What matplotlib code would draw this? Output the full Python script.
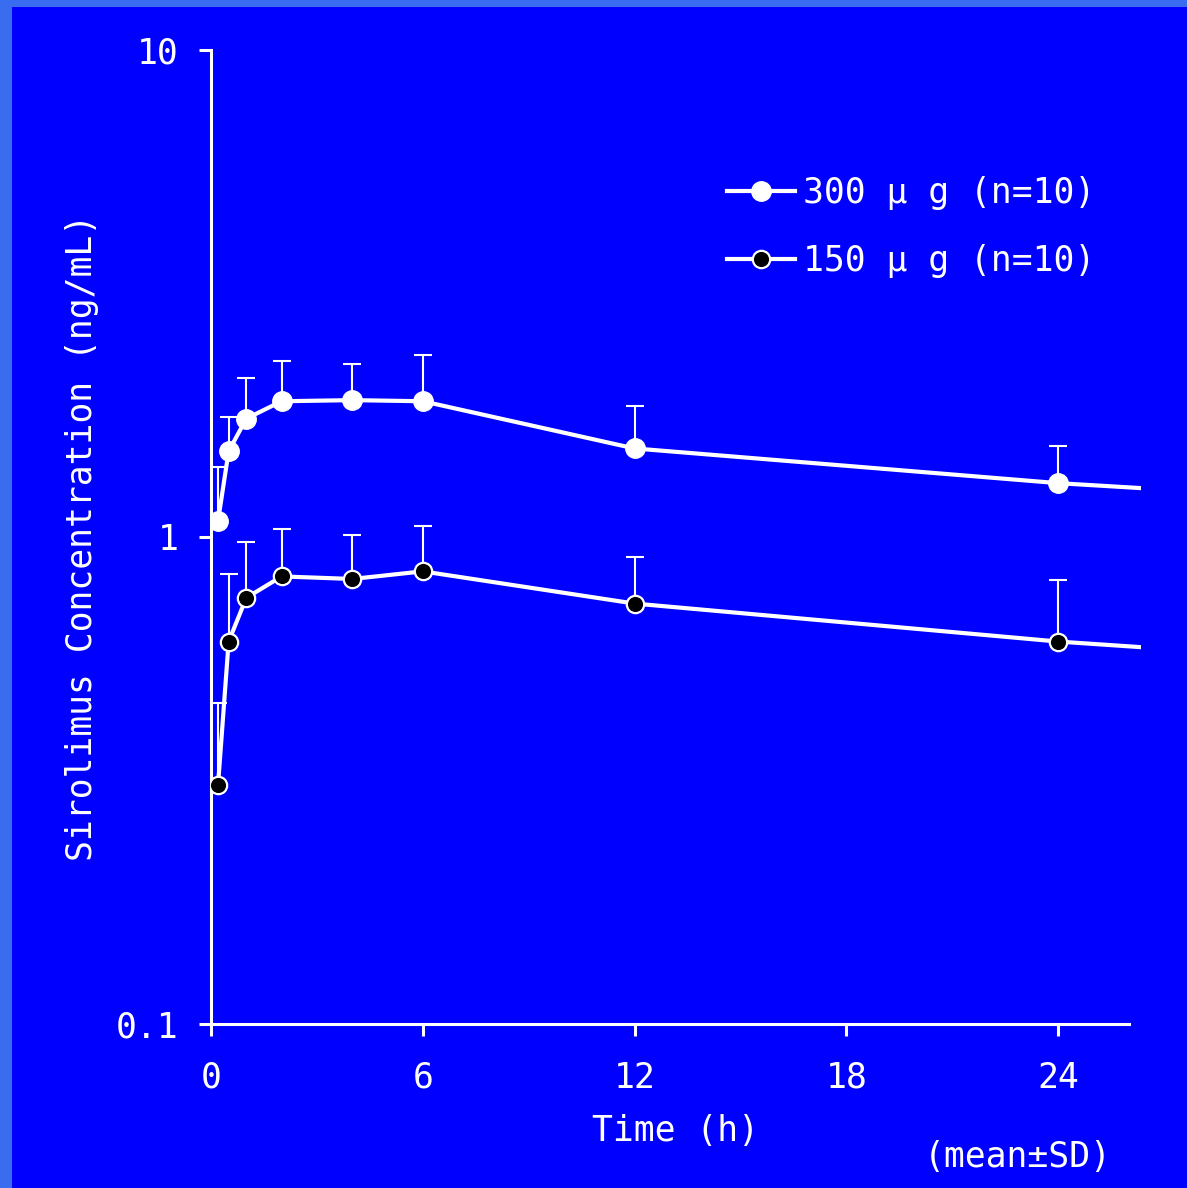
import matplotlib
matplotlib.use("Agg")
import matplotlib.pyplot as plt
from matplotlib.lines import Line2D
from matplotlib.patches import Rectangle

# Sampling times (h); the last value is where the line leaves the plot
time = [0.2, 0.5, 1, 2, 4, 6, 12, 24]
time_tail = 26.35

# 300 ug group
mean_300 = [1.08, 1.50, 1.75, 1.90, 1.91, 1.90, 1.52, 1.29]
sd_300 = [0.31, 0.26, 0.37, 0.40, 0.36, 0.46, 0.34, 0.25]
tail_300 = 1.26

# 150 ug group
mean_150 = [0.31, 0.61, 0.75, 0.83, 0.82, 0.85, 0.73, 0.61]
sd_150 = [0.146, 0.23, 0.225, 0.21, 0.19, 0.204, 0.18, 0.206]
tail_150 = 0.594

x_ticks = [0, 6, 12, 18, 24]
y_ticks = [0.1, 1, 10]
y_tick_labels = ["0.1", "1", "10"]

labels = ["300 μ g (n=10)", "150 μ g (n=10)"]

BLUE = "#0000FF"
FONT = "DejaVu Sans Mono"
FS = 25

fig = plt.figure(figsize=(11.87, 11.88), dpi=100)
fig.patch.set_facecolor("#3a6cf0")
# solid blue panel, leaving the lighter border strip on the left and top
fig.add_artist(Rectangle((12 / 1187, 0), 1, 1 - 7 / 1188, transform=fig.transFigure,
                         facecolor=BLUE, edgecolor="none", zorder=0))

ax = fig.add_axes([211 / 1187, 164 / 1188, 930 / 1187, 974 / 1188])
ax.set_facecolor(BLUE)
ax.set_yscale("log")
ax.set_xlim(0, time_tail)
ax.set_ylim(0.1, 10)

for spine in ["top", "right"]:
    ax.spines[spine].set_visible(False)
for spine in ["left", "bottom"]:
    ax.spines[spine].set_color("white")
    ax.spines[spine].set_linewidth(2.2)
ax.spines["bottom"].set_bounds(0, 26)

ax.set_xticks(x_ticks)
ax.set_xticklabels([str(t) for t in x_ticks])
ax.set_yticks(y_ticks)
ax.set_yticklabels(y_tick_labels)
ax.minorticks_off()
ax.tick_params(axis="both", colors="white", length=8.5, width=2.2, labelsize=FS)
ax.tick_params(axis="x", pad=18)
ax.tick_params(axis="y", pad=15)
for lab in ax.get_xticklabels() + ax.get_yticklabels():
    lab.set_fontfamily(FONT)

# upper-only error bars
ax.errorbar(time, mean_300, yerr=[[0] * len(sd_300), sd_300], fmt="none",
            ecolor="white", elinewidth=1.5, capsize=6.8, capthick=1.5, zorder=2)
ax.errorbar(time, mean_150, yerr=[[0] * len(sd_150), sd_150], fmt="none",
            ecolor="white", elinewidth=1.5, capsize=6.8, capthick=1.5, zorder=2)

# connecting lines (run off the right edge)
ax.plot(time + [time_tail], mean_300 + [tail_300], color="white", lw=3, zorder=3)
ax.plot(time + [time_tail], mean_150 + [tail_150], color="white", lw=3, zorder=3)

ax.plot(time, mean_300, "o", color="white", markersize=14, zorder=4)
ax.plot(time, mean_150, "o", markerfacecolor="black", markeredgecolor="white",
        markeredgewidth=1.6, markersize=12.5, zorder=4)

ax.set_ylabel("Sirolimus Concentration (ng/mL)", fontsize=FS, color="white",
              fontfamily=FONT, labelpad=12)
ax.set_xlabel("Time (h)", fontsize=FS, color="white", fontfamily=FONT, labelpad=14)

handles = [
    Line2D([], [], color="white", lw=3, marker="o", markersize=14),
    Line2D([], [], color="white", lw=3, marker="o", markerfacecolor="black",
           markeredgecolor="white", markeredgewidth=1.6, markersize=12.5),
]
leg = ax.legend(handles, labels, loc="upper left", bbox_to_anchor=(710 / 1187, 1 - 159 / 1188),
                bbox_transform=fig.transFigure, frameon=False, handlelength=1.95,
                handletextpad=0.22, labelspacing=0.98, borderpad=0,
                prop={"family": FONT, "size": FS})
for txt in leg.get_texts():
    txt.set_color("white")

fig.text(1112 / 1187, 1 - 1157 / 1188, "(mean±SD)", ha="right", va="center",
         color="white", fontsize=FS, fontfamily=FONT)

fig.savefig("out.png", dpi=100, facecolor=fig.get_facecolor())
